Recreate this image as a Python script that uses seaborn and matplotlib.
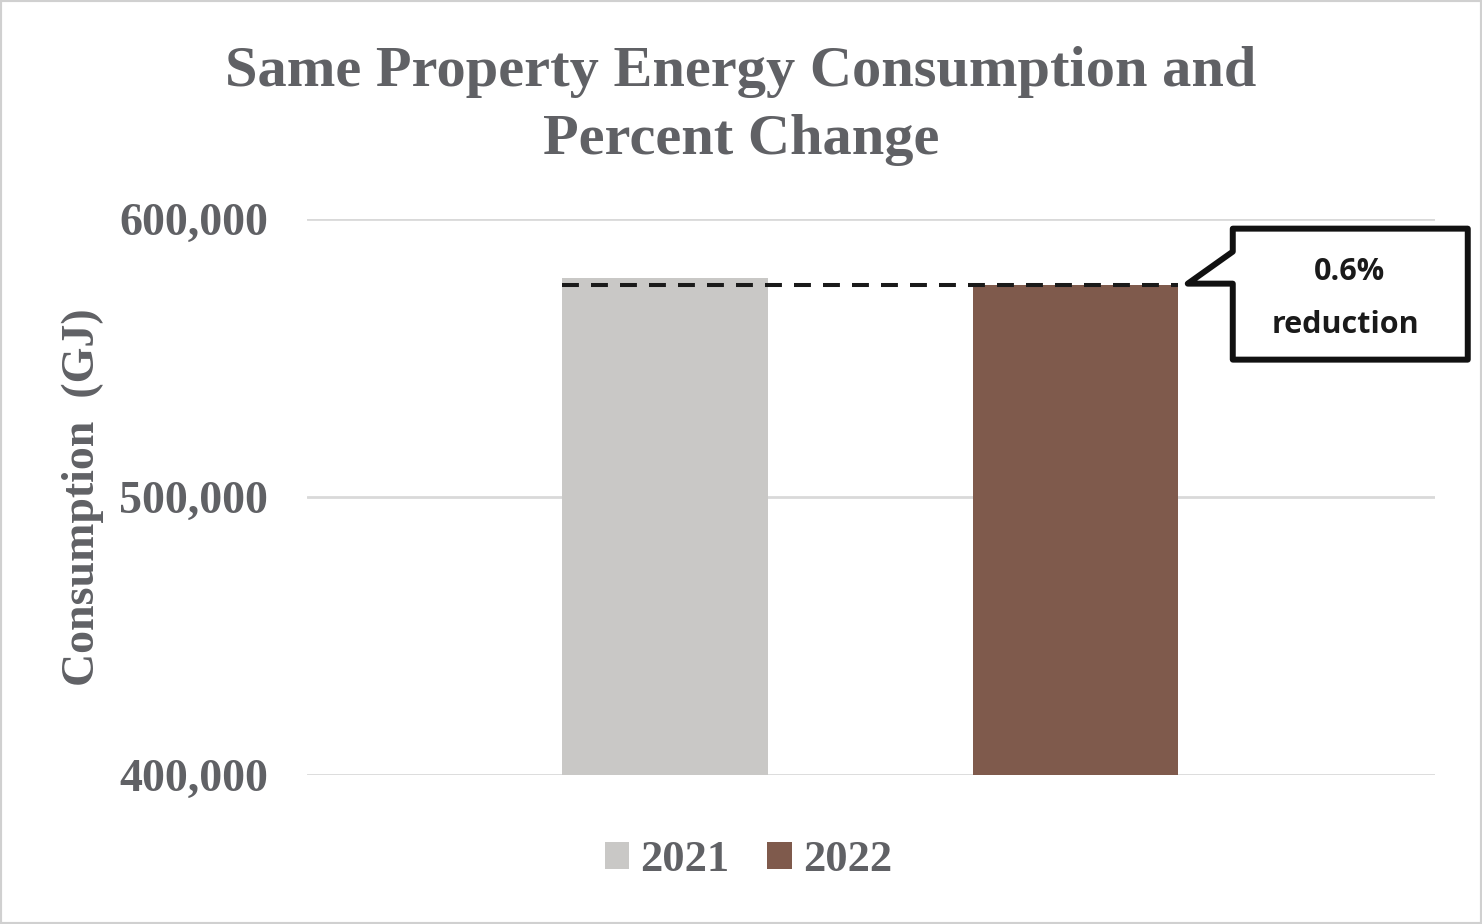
import matplotlib
matplotlib.use('Agg')
import matplotlib.pyplot as plt
import matplotlib.patches as patches
from matplotlib.transforms import IdentityTransform
import seaborn as sns
import pandas as pd

# data
years = ['2021', '2022']
consumption = [578800, 576400]
bar_colors = ['#C9C8C6', '#7F5A4C']
y_ticks = [400000, 500000, 600000]
callout_lines = ['0.6%', 'reduction']

sns.set_style('white')
plt.rcParams['font.family'] = ['Liberation Serif', 'DejaVu Serif']

text_gray = '#606165'
grid_gray = '#D9D9D9'

df = pd.DataFrame({'year': years, 'value': consumption})

fig = plt.figure(figsize=(14.82, 9.24), dpi=100)
ax = fig.add_axes([307 / 1482, 1 - 775.3 / 924, (1435 - 307) / 1482, (775.3 - 219) / 924])

sns.barplot(data=df, x='year', y='value', hue='year', palette=dict(zip(years, bar_colors)),
            width=0.5, dodge=False, linewidth=0, saturation=1, legend=True, ax=ax, zorder=2)

ax.set_ylim(y_ticks[0], y_ticks[-1])
ax.set_xlim(-0.8725, 1.877)
ax.set_yticks(y_ticks)
ax.set_yticklabels([f'{t:,}' for t in y_ticks], fontsize=33, fontweight='bold', color=text_gray)
ax.set_xticks([])
ax.set_xlabel('')
ax.set_ylabel('')
ax.tick_params(axis='y', length=0, pad=28)
ax.yaxis.grid(True, color=grid_gray, linewidth=2.0, zorder=0)
ax.set_axisbelow(True)
for s in ax.spines.values():
    s.set_visible(False)

# dashed reference line at 2022 level
ax.plot([-0.25, 1.25], [consumption[1], consumption[1]], color='#1a1a1a', lw=2.9,
        linestyle=(0, (4.2, 3.0)), zorder=3)

# legend
handles, labels = ax.get_legend_handles_labels()
ax.legend(handles, labels, loc='center', bbox_to_anchor=(0.505, 0.069), bbox_transform=fig.transFigure,
          ncol=2, frameon=False, handlelength=0.55, handleheight=0.55, handletextpad=0.25,
          columnspacing=0.85, prop={'family': 'Liberation Serif', 'weight': 'bold', 'size': 32},
          labelcolor=text_gray)

# title and y label
fig.text(0.5, 1 - 106 / 924, 'Same Property Energy Consumption and\nPercent Change', ha='center', va='center',
         fontsize=42, fontweight='bold', color=text_gray, linespacing=1.38)
fig.text(83 / 1482, 1 - 497 / 924, 'Consumption  (GJ)', rotation=90, ha='center', va='center',
         fontsize=33, fontweight='bold', color=text_gray)

# callout box anchored at top right corner of 2022 bar
ax_x, ax_y = ax.transData.transform((1.25, consumption[1]))
offsets = [(10, 1), (55, 33), (55, 56), (290, 56), (290, -75), (55, -75), (55, 1)]
pts = [(ax_x + dx, ax_y + dy) for dx, dy in offsets]
callout = patches.Polygon(pts, closed=True, facecolor='white', edgecolor='#111111', lw=4.3,
                          joinstyle='round', transform=IdentityTransform(), zorder=5)
fig.add_artist(callout)
fig.text((ax_x + 172) / 1482, (ax_y + 13) / 924, callout_lines[0], ha='center', va='center',
         fontsize=22, fontweight='bold', family=['Open Sans', 'DejaVu Sans'], color='#1a1a1a', zorder=6)
fig.text((ax_x + 168) / 1482, (ax_y - 40) / 924, callout_lines[1], ha='center', va='center',
         fontsize=22, fontweight='bold', family=['Open Sans', 'DejaVu Sans'], color='#1a1a1a', zorder=6)

# outer border
fig.add_artist(patches.Rectangle((0, 0), 1, 1, transform=fig.transFigure, fill=False,
                                 edgecolor='#D0D0D0', lw=3))

fig.savefig('out.png', dpi=100)
